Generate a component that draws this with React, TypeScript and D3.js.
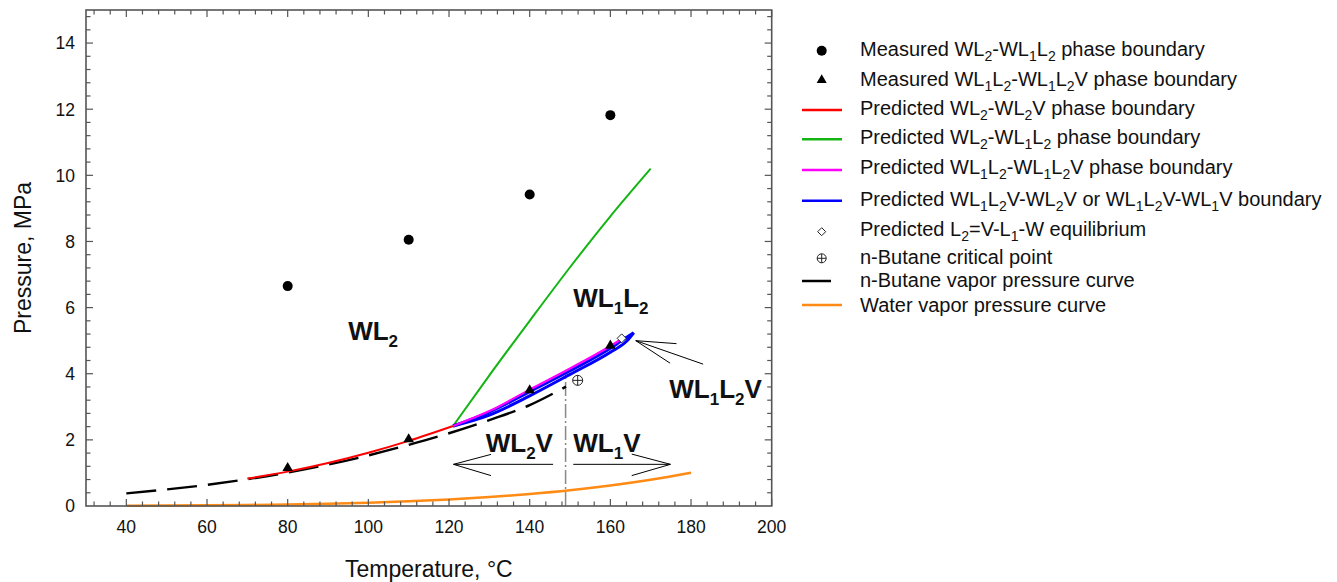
import React from "react";
import * as d3 from "d3";

// ---------- data (°C, MPa) ----------
const measuredCircle: [number, number][] = [[80, 6.65], [110, 8.05], [140, 9.42], [160, 11.82]];
const measuredTriangle: [number, number][] = [[80, 1.15], [110, 2.02], [140, 3.5], [160, 4.85]];
const predRed: [number, number][] = [[70, 0.83], [80, 1.04], [90, 1.3], [100, 1.61], [110, 1.97], [121, 2.42]];
const predGreen: [number, number][] = [[121, 2.42], [130, 3.95], [140, 5.6], [150, 7.22], [160, 8.76], [170, 10.2]];
const predMagenta: [number, number][] = [[121, 2.42], [130, 2.87], [140, 3.52], [150, 4.16], [160, 4.84], [162.5, 5.03]];
const predBlueUpper: [number, number][] = [[121, 2.42], [130, 2.84], [140, 3.46], [150, 4.09], [160, 4.77], [163, 5.02], [165.8, 5.24]];
const predBlueLower: [number, number][] = [[121, 2.42], [130, 2.75], [140, 3.33], [150, 3.98], [160, 4.65], [164, 4.98], [165.8, 5.24]];
const quadPoint: [number, number][] = [[162.8, 5.07]];
const butaneCritical: [number, number][] = [[151.9, 3.8]];
const butaneVP: [number, number][] = [[40, 0.38], [50, 0.5], [60, 0.64], [70, 0.81], [80, 1.01], [90, 1.25], [100, 1.53], [110, 1.85], [120, 2.2], [130, 2.6], [140, 3.05], [149, 3.61]];
const waterVP: [number, number][] = [[40, 0.0074], [50, 0.0124], [60, 0.02], [70, 0.031], [80, 0.047], [90, 0.07], [100, 0.101], [110, 0.143], [120, 0.199], [130, 0.27], [140, 0.362], [150, 0.476], [160, 0.618], [170, 0.792], [180, 1.003]];
const dividerLine: [number, number][] = [[148.9, 0], [148.9, 3.9]];

const xTickLabels = [40, 60, 80, 100, 120, 140, 160, 180, 200];
const yTickLabels = [0, 2, 4, 6, 8, 10, 12, 14];

const regionLabels: { text: string; t: number; p: number }[] = [
  { text: "WL_2", t: 95, p: 5.02 },
  { text: "WL_1L_2", t: 150.8, p: 6.03 },
  { text: "WL_1L_2V", t: 174.6, p: 3.26 },
  { text: "WL_2V", t: 129.1, p: 1.64 },
  { text: "WL_1V", t: 150.8, p: 1.64 },
];

// annotation arrows: [from, to] in data units
const arrowLines: [[number, number], [number, number]][] = [
  [[121.1, 1.26], [145.8, 1.26]],
  [[121.1, 1.26], [130.4, 1.56]],
  [[121.1, 1.26], [130.4, 0.92]],
  [[150.8, 1.26], [174.9, 1.26]],
  [[174.9, 1.26], [165.3, 1.57]],
  [[174.9, 1.26], [165.3, 0.92]],
  [[166.3, 5.0], [176.4, 4.91]],
  [[166.3, 5.0], [174.8, 4.32]],
  [[166.3, 5.0], [183.0, 4.29]],
];

const legendLabels = [
  "Measured WL_2-WL_1L_2 phase boundary",
  "Measured WL_1L_2-WL_1L_2V phase boundary",
  "Predicted WL_2-WL_2V phase boundary",
  "Predicted WL_2-WL_1L_2 phase boundary",
  "Predicted WL_1L_2-WL_1L_2V phase boundary",
  "Predicted WL_1L_2V-WL_2V or WL_1L_2V-WL_1V boundary",
  "Predicted L_2=V-L_1-W equilibrium",
  "n-Butane critical point",
  "n-Butane vapor pressure curve",
  "Water vapor pressure curve",
];
const legendKinds = ["circle", "triangle", "red", "green", "magenta", "blue", "diamond", "cross", "black", "orange"];

// ---------- layout ----------
const W = 1337;
const H = 582;
const M = { left: 86, right: 771.7, top: 10, bottom: 506 };
const FONT = "'Liberation Sans', Arial, Helvetica, sans-serif";
const FRAME = "#555";

const COLORS: Record<string, string> = {
  red: "#ff0000",
  green: "#14b414",
  magenta: "#ff00ff",
  blue: "#0000ff",
  black: "#000000",
  orange: "#ff8a14",
};

function parseSub(s: string): { t: string; sub: boolean }[] {
  const out: { t: string; sub: boolean }[] = [];
  let buf = "";
  for (let i = 0; i < s.length; i++) {
    if (s[i] === "_" && i + 1 < s.length) {
      if (buf) out.push({ t: buf, sub: false });
      buf = "";
      out.push({ t: s[i + 1], sub: true });
      i++;
    } else buf += s[i];
  }
  if (buf) out.push({ t: buf, sub: false });
  return out;
}

function SubText(props: { x: number; y: number; text: string; size: number; subSize: number; shift: number; bold?: boolean }) {
  const segs = parseSub(props.text);
  let cur = 0;
  return (
    <text x={props.x} y={props.y} fontFamily={FONT} fontSize={props.size} fontWeight={props.bold ? "bold" : "normal"} fill="#111">
      {segs.map((s, i) => {
        const target = s.sub ? props.shift : 0;
        const dy = target - cur;
        cur = target;
        return (
          <tspan key={i} dy={dy} fontSize={s.sub ? props.subSize : props.size} style={{ whiteSpace: "pre" }}>
            {s.t}
          </tspan>
        );
      })}
    </text>
  );
}

export default function App() {
  const x = d3.scaleLinear().domain([30, 200]).range([M.left, M.right]);
  const y = d3.scaleLinear().domain([0, 15]).range([M.bottom, M.top]);
  const line = d3.line<[number, number]>().x((d) => x(d[0])).y((d) => y(d[1])).curve(d3.curveMonotoneX);
  const straight = d3.line<[number, number]>().x((d) => x(d[0])).y((d) => y(d[1]));

  const xMinor = d3.range(32, 200.01, 4);
  const yMinor = d3.range(0.4, 15, 0.4);

  const tri = d3.symbol().type(d3.symbolTriangle).size(48)()!;
  const triL = d3.symbol().type(d3.symbolTriangle).size(44)()!;

  const legendY = [50.7, 80, 110, 139.3, 170, 200.7, 231.7, 258.3, 281, 305];
  const legendBase = [56, 85.7, 115, 144, 174, 206, 236, 264, 287.3, 311.7];

  const crossMark = (cx: number, cy: number, r: number) => (
    <g>
      <circle cx={cx} cy={cy} r={r} fill="white" stroke="#222" strokeWidth={1} />
      <line x1={cx - r} x2={cx + r} y1={cy} y2={cy} stroke="#222" strokeWidth={1} />
      <line x1={cx} x2={cx} y1={cy - r} y2={cy + r} stroke="#222" strokeWidth={1} />
    </g>
  );
  const diamondMark = (cx: number, cy: number, r: number) => (
    <path d={`M${cx},${cy - r}L${cx + r},${cy}L${cx},${cy + r}L${cx - r},${cy}Z`} fill="white" stroke="#222" strokeWidth={1} />
  );

  return (
    <div style={{ position: "fixed", left: 0, top: 0 }}>
      <svg width={W} height={H} style={{ display: "block", background: "white" }}>
        {/* curves */}
        <path d={line(waterVP)!} fill="none" stroke={COLORS.orange} strokeWidth={2.5} />
        <path d={straight(dividerLine)!} fill="none" stroke="#888" strokeWidth={1.5} strokeDasharray="14 3 2 3" />
        <path d={line(butaneVP)!} fill="none" stroke="#000" strokeWidth={2.4} strokeDasharray="30 11" />
        <path d={line(predRed)!} fill="none" stroke={COLORS.red} strokeWidth={2} />
        <path d={line(predGreen)!} fill="none" stroke={COLORS.green} strokeWidth={2} />
        <path d={line(predBlueLower)!} fill="none" stroke={COLORS.blue} strokeWidth={3} />
        <path d={line(predBlueUpper)!} fill="none" stroke={COLORS.blue} strokeWidth={3} />
        <path d={line(predMagenta)!} fill="none" stroke={COLORS.magenta} strokeWidth={2.2} />

        {/* markers */}
        {measuredCircle.map((d, i) => (
          <circle key={"c" + i} cx={x(d[0])} cy={y(d[1])} r={5} fill="#000" />
        ))}
        {measuredTriangle.map((d, i) => (
          <path key={"t" + i} d={tri} transform={`translate(${x(d[0])},${y(d[1])})`} fill="#000" />
        ))}
        {quadPoint.map((d, i) => (
          <g key={"q" + i}>{diamondMark(x(d[0]), y(d[1]), 4.5)}</g>
        ))}
        {butaneCritical.map((d, i) => (
          <g key={"k" + i}>{crossMark(x(d[0]), y(d[1]), 5)}</g>
        ))}

        {/* annotation arrows */}
        {arrowLines.map((l, i) => (
          <line key={"a" + i} x1={x(l[0][0])} y1={y(l[0][1])} x2={x(l[1][0])} y2={y(l[1][1])} stroke="#000" strokeWidth={1} />
        ))}

        {/* region labels */}
        {regionLabels.map((r, i) => (
          <SubText key={"r" + i} x={x(r.t)} y={y(r.p)} text={r.text} size={26} subSize={17} shift={7} bold />
        ))}

        {/* frame & ticks */}
        <rect x={M.left} y={M.top} width={M.right - M.left} height={M.bottom - M.top} fill="none" stroke={FRAME} strokeWidth={1.6} />
        {xMinor.map((v) => {
          const major = v % 20 === 0;
          const len = major ? 7 : 4.5;
          return (
            <g key={"xt" + v} stroke={FRAME} strokeWidth={1.2}>
              <line x1={x(v)} x2={x(v)} y1={M.bottom} y2={M.bottom - len} />
              <line x1={x(v)} x2={x(v)} y1={M.top} y2={M.top + len} />
            </g>
          );
        })}
        {yMinor.map((v) => {
          const major = Math.abs(v / 2 - Math.round(v / 2)) < 1e-6;
          const len = major ? 7 : 4.5;
          return (
            <g key={"yt" + v.toFixed(1)} stroke={FRAME} strokeWidth={1.2}>
              <line x1={M.left} x2={M.left + len} y1={y(v)} y2={y(v)} />
              <line x1={M.right} x2={M.right - len} y1={y(v)} y2={y(v)} />
            </g>
          );
        })}
        {xTickLabels.map((v) => (
          <text key={"xl" + v} x={x(v)} y={533} textAnchor="middle" fontFamily={FONT} fontSize={17.5} fill="#111">
            {v}
          </text>
        ))}
        {yTickLabels.map((v) => (
          <text key={"yl" + v} x={75} y={y(v) + 6.3} textAnchor="end" fontFamily={FONT} fontSize={17.5} fill="#111">
            {v}
          </text>
        ))}
        <text x={(M.left + M.right) / 2} y={577} textAnchor="middle" fontFamily={FONT} fontSize={23} fill="#111">
          Temperature, °C
        </text>
        <text transform={`translate(30.5,${(M.top + M.bottom) / 2}) rotate(-90)`} textAnchor="middle" fontFamily={FONT} fontSize={23} fill="#111">
          Pressure, MPa
        </text>

        {/* legend */}
        {legendLabels.map((lab, i) => {
          const k = legendKinds[i];
          const cy = legendY[i];
          let mark: React.ReactNode = null;
          if (k === "circle") mark = <circle cx={821.7} cy={cy} r={5} fill="#000" />;
          else if (k === "triangle") mark = <path d={triL} transform={`translate(821.7,${cy})`} fill="#000" />;
          else if (k === "diamond") mark = diamondMark(821.7, cy, 4);
          else if (k === "cross") mark = crossMark(821.7, cy, 4.5);
          else
            mark = (
              <line x1={802} x2={k === "black" ? 831 : 842} y1={cy} y2={cy} stroke={COLORS[k]} strokeWidth={2.5} />
            );
          return (
            <g key={"lg" + i}>
              {mark}
              <SubText x={860} y={legendBase[i]} text={lab} size={20} subSize={14} shift={5} />
            </g>
          );
        })}
      </svg>
    </div>
  );
}
